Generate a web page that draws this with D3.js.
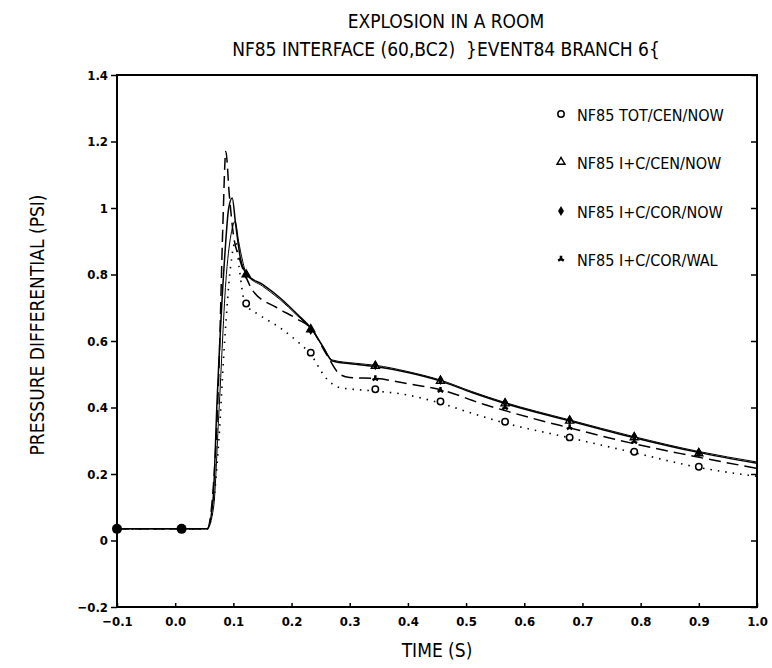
<!DOCTYPE html>
<html>
<head>
<meta charset="utf-8">
<script src="https://cdn.jsdelivr.net/npm/d3@7"></script>
<style>
  body { margin: 0; background: #fff; }
  text { font-family: "Liberation Sans Narrow", "DejaVu Sans Condensed", sans-serif; fill: #000; white-space: pre; }
</style>
</head>
<body>
<svg id="chart" width="772" height="668"></svg>
<script>
// data
var seriesNames = ['NF85 TOT/CEN/NOW', 'NF85 I+C/CEN/NOW', 'NF85 I+C/COR/NOW', 'NF85 I+C/COR/WAL'];

// dotted, circles
var totX = [-0.1, 0.055, 0.065, 0.075, 0.085, 0.095, 0.104, 0.11, 0.12, 0.146, 0.18, 0.209, 0.232, 0.26, 0.283, 0.34, 0.392, 0.452, 0.506, 0.563, 0.675, 0.787, 0.899, 1.0];
var totY = [0.035, 0.035, 0.1, 0.3, 0.6, 0.82, 0.9, 0.82, 0.713, 0.677, 0.64, 0.6, 0.562, 0.487, 0.46, 0.45, 0.44, 0.415, 0.385, 0.355, 0.31, 0.265, 0.22, 0.193];

// solid, triangles
var cenX = [-0.1, 0.055, 0.065, 0.072, 0.085, 0.092, 0.098, 0.104, 0.112, 0.123, 0.15, 0.18, 0.21, 0.235, 0.255, 0.27, 0.31, 0.344, 0.4, 0.455, 0.51, 0.567, 0.675, 0.787, 0.899, 1.0];
var cenY = [0.035, 0.035, 0.12, 0.42, 0.85, 1.0, 1.03, 0.95, 0.85, 0.8, 0.77, 0.73, 0.68, 0.635, 0.58, 0.54, 0.53, 0.523, 0.505, 0.48, 0.445, 0.412, 0.361, 0.31, 0.265, 0.232];

// solid, filled dots
var corX = [-0.1, 0.055, 0.066, 0.075, 0.088, 0.097, 0.103, 0.109, 0.116, 0.123, 0.15, 0.18, 0.21, 0.235, 0.255, 0.27, 0.31, 0.344, 0.4, 0.455, 0.51, 0.567, 0.675, 0.787, 0.899, 1.0];
var corY = [0.035, 0.035, 0.1, 0.38, 0.8, 0.93, 0.96, 0.9, 0.84, 0.8, 0.765, 0.725, 0.676, 0.633, 0.58, 0.543, 0.533, 0.527, 0.508, 0.483, 0.448, 0.415, 0.364, 0.313, 0.268, 0.236];

// dashed, Y marks
var walX = [-0.1, 0.055, 0.065, 0.075, 0.082, 0.087, 0.093, 0.1, 0.11, 0.12, 0.134, 0.175, 0.209, 0.235, 0.26, 0.283, 0.3, 0.347, 0.398, 0.455, 0.53, 0.615, 0.675, 0.752, 0.867, 1.0];
var walY = [0.035, 0.035, 0.15, 0.5, 0.95, 1.17, 1.04, 0.92, 0.85, 0.8, 0.75, 0.7, 0.667, 0.635, 0.56, 0.5, 0.49, 0.487, 0.472, 0.454, 0.41, 0.367, 0.34, 0.306, 0.262, 0.217];

// symbol positions
var markX = [-0.1, 0.011, 0.122, 0.233, 0.344, 0.456, 0.567, 0.678, 0.789, 0.9];
var totMarkY = [0.035, 0.035, 0.713, 0.565, 0.455, 0.418, 0.357, 0.31, 0.267, 0.222];
var cenMarkY = [0.035, 0.035, 0.8, 0.635, 0.525, 0.48, 0.412, 0.36, 0.31, 0.262];
var corMarkY = [0.035, 0.035, 0.8, 0.633, 0.527, 0.483, 0.415, 0.363, 0.313, 0.265];
var walMarkY = [0.035, 0.035, 0.8, 0.635, 0.487, 0.452, 0.4, 0.34, 0.298, 0.265];

var xTicks = [-0.1, 0.0, 0.1, 0.2, 0.3, 0.4, 0.5, 0.6, 0.7, 0.8, 0.9, 1.0];
var xTickLabels = ['\u22120.1', '0.0', '0.1', '0.2', '0.3', '0.4', '0.5', '0.6', '0.7', '0.8', '0.9', '1.0'];
var yTicks = [-0.2, 0, 0.2, 0.4, 0.6, 0.8, 1, 1.2, 1.4];
var yTickLabels = ['\u22120.2', '0', '0.2', '0.4', '0.6', '0.8', '1', '1.2', '1.4'];

var svg = d3.select('#chart');
var mLeft = 117, mRight = 757, mTop = 75, mBottom = 607;

var x = d3.scaleLinear().domain([-0.1, 1.0]).range([mLeft, mRight]);
var y = d3.scaleLinear().domain([-0.2, 1.4]).range([mBottom, mTop]);

// titles
svg.append('text').attr('x', 446).attr('y', 28).attr('text-anchor', 'middle')
  .style('font-size', '19px').text('EXPLOSION IN A ROOM');
svg.append('text').attr('x', 446).attr('y', 56).attr('text-anchor', 'middle')
  .style('font-size', '19px').text('NF85 INTERFACE (60,BC2)  }EVENT84 BRANCH 6{');

// axes
var xAxis = d3.axisBottom(x).tickValues(xTicks).tickSize(4)
  .tickFormat(function(d, i) { return xTickLabels[i]; });
var yAxis = d3.axisLeft(y).tickValues(yTicks).tickSize(6)
  .tickFormat(function(d, i) { return yTickLabels[i]; });
var yAxisR = d3.axisLeft(y).tickValues(yTicks).tickSize(6).tickFormat('');

var gx = svg.append('g').attr('transform', 'translate(0,' + mBottom + ')').call(xAxis);
gx.selectAll('.tick line').attr('y2', -4);
gx.selectAll('text').attr('y', 10).style('font-size', '13px').style('font-weight', 'bold')
  .style('font-family', '"DejaVu Sans Condensed", sans-serif');

var gy = svg.append('g').attr('transform', 'translate(' + mLeft + ',0)').call(yAxis);
gy.selectAll('text').attr('x', -9).style('font-size', '13px').style('font-weight', 'bold')
  .style('font-family', '"DejaVu Sans Condensed", sans-serif');

var gr = svg.append('g').attr('transform', 'translate(' + mRight + ',0)').call(yAxisR);

[gx, gy, gr].forEach(function(g) {
  g.select('.domain').remove();
  g.selectAll('.tick line').attr('stroke', '#000').attr('stroke-width', 1.5);
});

svg.append('rect').attr('x', mLeft).attr('y', mTop).attr('width', mRight - mLeft).attr('height', mBottom - mTop)
  .attr('fill', 'none').attr('stroke', '#000').attr('stroke-width', 2);

svg.append('text').attr('x', 437).attr('y', 657).attr('text-anchor', 'middle')
  .style('font-size', '19px').text('TIME (S)');
svg.append('text').attr('transform', 'translate(44,325) rotate(-90)').attr('text-anchor', 'middle')
  .style('font-size', '19px').text('PRESSURE DIFFERENTIAL (PSI)');

// curves
var line = d3.line().x(function(d) { return x(d[0]); }).y(function(d) { return y(d[1]); })
  .curve(d3.curveMonotoneX);

var curves = [
  { xs: totX, ys: totY, dash: '1.5,6', w: 1.6 },
  { xs: cenX, ys: cenY, dash: null, w: 1.5 },
  { xs: corX, ys: corY, dash: null, w: 1.0 },
  { xs: walX, ys: walY, dash: '12,6', w: 1.5 }
];
curves.forEach(function(c) {
  svg.append('path').datum(d3.zip(c.xs, c.ys)).attr('d', line)
    .attr('fill', 'none').attr('stroke', '#000').attr('stroke-width', c.w)
    .attr('stroke-dasharray', c.dash);
});

// symbols
function drawMarks(ys, type) {
  var pts = d3.zip(markX, ys);
  pts.forEach(function(p, i) {
    var px = x(p[0]), py = y(p[1]);
    if (i < 2) {
      if (type === 'dot') svg.append('circle').attr('cx', px).attr('cy', py).attr('r', 5).attr('fill', '#000');
      return;
    }
    drawSymbol(px, py, type);
  });
}
function drawSymbol(px, py, type) {
  if (type === 'circle') {
    svg.append('circle').attr('cx', px).attr('cy', py).attr('r', 3.2)
      .attr('fill', '#fff').attr('stroke', '#000').attr('stroke-width', 1.5);
  } else if (type === 'triangle') {
    svg.append('path').attr('d', d3.symbol(d3.symbolTriangle, 28)())
      .attr('transform', 'translate(' + px + ',' + py + ')')
      .attr('fill', '#fff').attr('stroke', '#000').attr('stroke-width', 1.4);
  } else if (type === 'dot') {
    svg.append('path').attr('d', d3.symbol(d3.symbolDiamond, 30)())
      .attr('transform', 'translate(' + px + ',' + py + ')').attr('fill', '#000');
  } else if (type === 'wye') {
    svg.append('path').attr('d', d3.symbol(d3.symbolWye, 22)())
      .attr('transform', 'translate(' + px + ',' + py + ') rotate(180)').attr('fill', '#000');
  }
}
drawMarks(totMarkY, 'circle');
drawMarks(cenMarkY, 'triangle');
drawMarks(corMarkY, 'dot');
drawMarks(walMarkY, 'wye');

// legend
var legendTypes = ['circle', 'triangle', 'dot', 'wye'];
var legendY = [115, 163, 212, 260];
seriesNames.forEach(function(name, i) {
  drawSymbol(561, legendY[i] - 1, legendTypes[i]);
  svg.append('text').attr('x', 577).attr('y', legendY[i] + 6)
    .style('font-size', '16px').text(name);
});
</script>
</body>
</html>
